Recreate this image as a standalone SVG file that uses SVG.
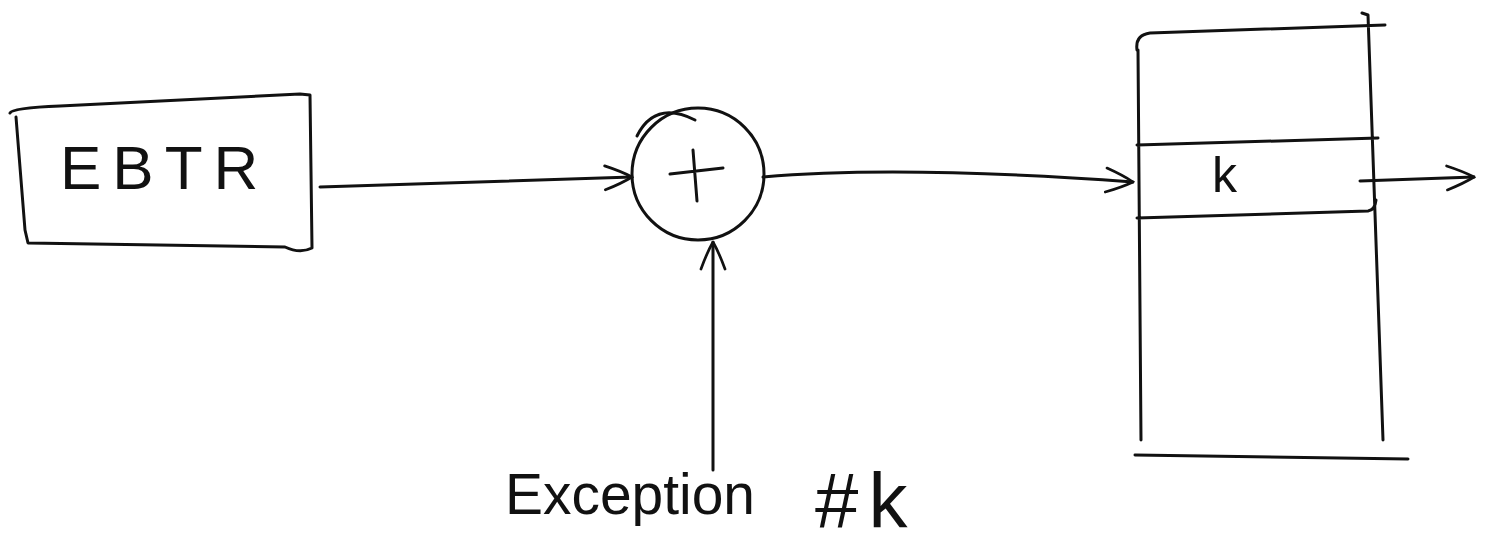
<svg xmlns="http://www.w3.org/2000/svg" width="1489" height="553" viewBox="0 0 1489 553">
<style>
.ln{fill:none;stroke:#111;stroke-width:3;stroke-linecap:round;stroke-linejoin:round}
.tx{font-family:"Liberation Sans",Arial,sans-serif;fill:#111}
</style>
<defs>
<marker id="ah" viewBox="0 0 20 20" refX="19" refY="10" markerWidth="30" markerHeight="30" markerUnits="userSpaceOnUse" orient="auto">
<path d="M1,2 Q12,6 19,10 Q12,14 1,18" fill="none" stroke="#111" stroke-width="1.8" stroke-linecap="round"/>
</marker>
</defs>
<rect width="1489" height="553" fill="#fff"/>
<g id="ebtr">
<path class="ln" d="M10,113 Q12,108 60,106 L300,94 L310,95 L312,248 Q300,254 285,247 L28,243 L25,230 L16,117"/>
<text class="tx" x="60" y="189" font-size="62" letter-spacing="11">EBTR</text>
</g>
<g id="sum">
<circle class="ln" cx="698" cy="174" r="66"/>
<path class="ln" d="M637,136 Q655,100 695,120"/>
<path class="ln" d="M670,174 L723,168 M693,150 L697,201"/>
</g>
<g id="table">
<path class="ln" d="M1137,50 Q1135,35 1150,33 L1385,25 M1362,13 L1368,15 L1383,440 M1138,50 L1141,440 M1137,145 L1378,138 M1137,218 L1368,211 Q1375,210 1376,200 M1135,455 L1408,459"/>
<text class="tx" x="1212" y="192" font-size="50">k</text>
</g>
<g id="exception">
<text class="tx" x="505" y="514" font-size="58" textLength="250" lengthAdjust="spacingAndGlyphs">Exception</text>
<text class="tx" x="815" y="528" font-size="78" letter-spacing="10">#k</text>
</g>
<g id="connectors">
<path class="ln" d="M320,187 L632,177" marker-end="url(#ah)"/>
<path class="ln" d="M763,177 Q900,165 1133,182" marker-end="url(#ah)"/>
<path class="ln" d="M713,470 L713,242" marker-end="url(#ah)"/>
<path class="ln" d="M1360,181 L1474,177" marker-end="url(#ah)"/>
</g>
</svg>
